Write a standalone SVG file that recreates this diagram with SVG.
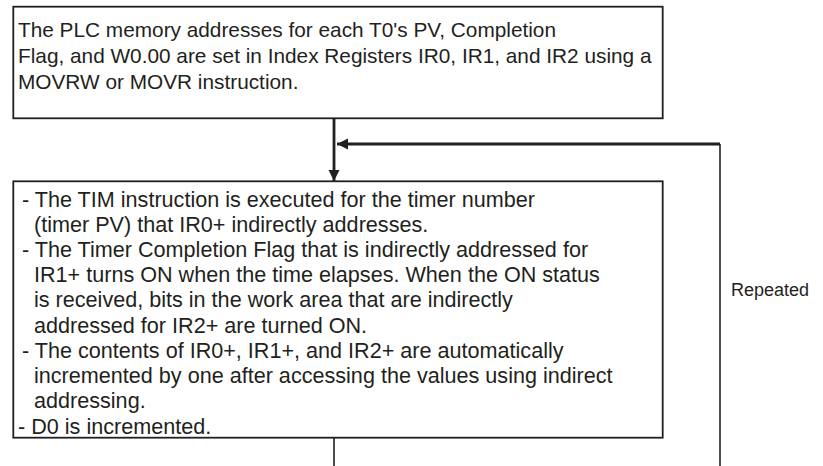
<svg xmlns="http://www.w3.org/2000/svg" width="823" height="466" viewBox="0 0 823 466">
<defs>
<style>
.box{fill:#fff;stroke:#231f20;stroke-width:1.8}
.t1{font-family:"Liberation Sans",Arial,sans-serif;font-size:20.8px;fill:#231f20}
.t2{font-family:"Liberation Sans",Arial,sans-serif;font-size:21.6px;fill:#231f20}
.lbl{font-family:"Liberation Sans",Arial,sans-serif;font-size:18px;fill:#231f20}
.thick{stroke:#231f20;stroke-width:2.8;fill:none}
.thin{stroke:#231f20;stroke-width:1.6;fill:none}
</style>
<marker id="ah" viewBox="0 0 10 10" refX="10" refY="5" markerWidth="4.2" markerHeight="4" markerUnits="strokeWidth" orient="auto">
<path d="M0,0 L10,5 L0,10 z" fill="#231f20"/>
</marker>
</defs>
<g id="connectors">
<line class="thick" x1="334" y1="118" x2="334" y2="181" marker-end="url(#ah)"/>
<polyline class="thin" points="720,466 720,144"/>
<line class="thick" x1="720" y1="144" x2="337" y2="144" marker-end="url(#ah)"/>
<line class="thin" x1="334" y1="438" x2="334" y2="466"/>
<text class="lbl" x="731" y="296">Repeated</text>
</g>
<g id="node-setup">
<rect class="box" x="13.3" y="6.7" width="649.4" height="111.6"/>
<text class="t1" x="18" y="37">The PLC memory addresses for each T0's PV, Completion</text>
<text class="t1" x="18" y="63">Flag, and W0.00 are set in Index Registers IR0, IR1, and IR2 using a</text>
<text class="t1" x="18" y="89">MOVRW or MOVR instruction.</text>
</g>
<g id="node-loop">
<rect class="box" x="13.3" y="181.3" width="649.4" height="256.4"/>
<text class="t2" x="22" y="206.5">- The TIM instruction is executed for the timer number</text>
<text class="t2" x="34" y="231.7">(timer PV) that IR0+ indirectly addresses.</text>
<text class="t2" x="22" y="256.9">- The Timer Completion Flag that is indirectly addressed for</text>
<text class="t2" x="34" y="282.1">IR1+ turns ON when the time elapses. When the ON status</text>
<text class="t2" x="34" y="307.3">is received, bits in the work area that are indirectly</text>
<text class="t2" x="34" y="332.5">addressed for IR2+ are turned ON.</text>
<text class="t2" x="22" y="357.7">- The contents of IR0+, IR1+, and IR2+ are automatically</text>
<text class="t2" x="34" y="382.9">incremented by one after accessing the values using indirect</text>
<text class="t2" x="34" y="408.1">addressing.</text>
<text class="t2" x="18" y="434">- D0 is incremented.</text>
</g>
</svg>
